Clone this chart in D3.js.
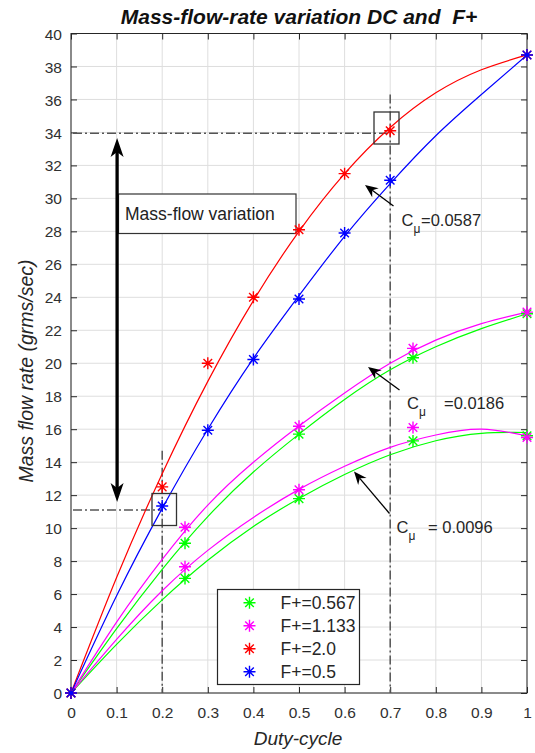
<!DOCTYPE html>
<html><head><meta charset="utf-8">
<script src="https://cdn.jsdelivr.net/npm/d3@7"></script>
<style>
body{margin:0;background:#fff}
text{font-family:"Liberation Sans",Arial,sans-serif}
</style>
</head><body>
<svg id="c" width="535" height="753"></svg>
<script>
// ---------- data ----------
const xTickVals = [0,0.1,0.2,0.3,0.4,0.5,0.6,0.7,0.8,0.9,1];
const xTickLabels = ["0","0.1","0.2","0.3","0.4","0.5","0.6","0.7","0.8","0.9","1"];
const yTickVals = [0,2,4,6,8,10,12,14,16,18,20,22,24,26,28,30,32,34,36,38,40];

// fitted curves, read at these duty-cycle values
const curveX      = [0, 0.1, 0.2, 0.3, 0.4, 0.5, 0.6, 0.7, 0.8, 0.9, 1.0];
const fitRed      = [0, 7.0, 13.3, 18.9, 23.8, 28.0, 31.5, 34.3, 36.4, 37.8, 38.7];
const fitBlue     = [0, 5.9, 11.2, 16.0, 20.3, 24.1, 27.7, 30.9, 33.8, 36.3, 38.7];
const fitMagHigh  = [0, 4.3, 8.1, 11.4, 14.0, 16.2, 18.2, 20.0, 21.4, 22.4, 23.1];
const fitGreenHigh= [0, 3.9, 7.5, 10.7, 13.4, 15.7, 17.8, 19.6, 21.0, 22.1, 23.0];
const fitMagLow   = [0, 3.25, 6.2, 8.65, 10.65, 12.35, 13.75, 14.9, 15.65, 16.0, 15.6];
const fitGreenLow = [0, 2.95, 5.65, 8.05, 10.1, 11.8, 13.25, 14.45, 15.3, 15.75, 15.8];

// measured points
const greenX = [0, 0.25, 0.5, 0.75, 1, 0.25, 0.5, 0.75, 1];
const greenY = [0, 9.08, 15.7, 20.33, 23.0, 6.95, 11.79, 15.29, 15.6];
const magX   = [0, 0.25, 0.5, 0.75, 1, 0.25, 0.5, 0.75, 1];
const magY   = [0, 10.05, 16.18, 20.9, 23.1, 7.66, 12.33, 16.1, 15.5];
const redX   = [0, 0.2, 0.3, 0.4, 0.5, 0.6, 0.7, 1];
const redY   = [0, 12.5, 20.0, 24.0, 28.1, 31.5, 34.1, 38.7];
const blueX  = [0, 0.2, 0.3, 0.4, 0.5, 0.6, 0.7, 1];
const blueY  = [0, 11.34, 15.94, 20.23, 23.9, 27.9, 31.1, 38.7];

const legendLabels = ["F+=0.567","F+=1.133","F+=2.0","F+=0.5"];
const seriesColors = ["#00ff00","#ff00ff","#ff0000","#0000ff"];

// annotation values
const refLow = 11.1, refHigh = 33.95, dcLow = 0.2, dcHigh = 0.7;
const cmuLabels = ["=0.0587","=0.0186","= 0.0096"];

// ---------- layout ----------
const svg = d3.select("#c");
const x = d3.scaleLinear().domain([0,1]).range([71,527]);
const y = d3.scaleLinear().domain([0,40]).range([693,33.5]);
const axisCol = "#262626";

// grid
const g = svg.append("g");
g.selectAll(".gx").data(xTickVals).enter().append("line")
  .attr("x1",d=>x(d)).attr("x2",d=>x(d)).attr("y1",y(0)).attr("y2",y(40))
  .attr("stroke","#dedede").attr("stroke-width",1);
g.selectAll(".gy").data(yTickVals).enter().append("line")
  .attr("x1",x(0)).attr("x2",x(1)).attr("y1",d=>y(d)).attr("y2",d=>y(d))
  .attr("stroke","#dedede").attr("stroke-width",1);

// axes
const fmt = d => xTickLabels[xTickVals.indexOf(d)];
const ax = svg.append("g").attr("transform",`translate(0,${y(0)})`)
  .call(d3.axisBottom(x).tickValues(xTickVals).tickFormat(fmt).tickSizeInner(-6).tickSizeOuter(0).tickPadding(14));
const ay = svg.append("g").attr("transform",`translate(${x(0)},0)`)
  .call(d3.axisLeft(y).tickValues(yTickVals).tickFormat(d3.format("d")).tickSizeInner(-6).tickSizeOuter(0).tickPadding(9));
const at = svg.append("g").attr("transform",`translate(0,${y(40)})`)
  .call(d3.axisTop(x).tickValues(xTickVals).tickFormat("").tickSizeInner(-6).tickSizeOuter(0));
const ar = svg.append("g").attr("transform",`translate(${x(1)},0)`)
  .call(d3.axisRight(y).tickValues(yTickVals).tickFormat("").tickSizeInner(-6).tickSizeOuter(0));
[ax,ay,at,ar].forEach(a=>{
  a.select(".domain").remove();
  a.selectAll("line").attr("stroke",axisCol);
  a.selectAll("text").attr("fill","#303030").style("font-size","15.5px").style("font-family","'Liberation Sans',Arial,sans-serif");
});
ay.selectAll("text").attr("dy","0.36em");
svg.append("rect").attr("x",x(0)).attr("y",y(40)).attr("width",x(1)-x(0)).attr("height",y(0)-y(40))
  .attr("fill","none").attr("stroke",axisCol).attr("stroke-width",1);

// title and axis labels
svg.append("text").attr("x",299).attr("y",24).attr("text-anchor","middle")
  .style("font-size","21px").style("font-weight","bold").style("font-style","italic")
  .style("white-space","pre").attr("fill","#111")
  .text("Mass-flow-rate variation DC and  F+");
svg.append("text").attr("x",298).attr("y",745).attr("text-anchor","middle")
  .style("font-size","19px").style("font-style","italic").attr("fill","#262626")
  .text("Duty-cycle");
svg.append("text").attr("transform","translate(33,371) rotate(-90)").attr("text-anchor","middle")
  .style("font-size","19.5px").style("font-style","italic").attr("fill","#262626")
  .text("Mass flow rate (grms/sec)");

// text box
svg.append("rect").attr("x",118.5).attr("y",194).attr("width",177.5).attr("height",39.5)
  .attr("fill","#fff").attr("stroke","#333").attr("stroke-width",1.2);
svg.append("text").attr("x",125).attr("y",219.5).style("font-size","17.5px").attr("fill","#222")
  .text("Mass-flow variation");

// dash-dot reference lines
const dd = "9,3,2,3";
const refG = svg.append("g").attr("stroke","#555").attr("stroke-width",1.5).attr("stroke-dasharray",dd).attr("fill","none");
refG.append("line").attr("x1",x(0)+2).attr("x2",x(dcLow)).attr("y1",y(refLow)).attr("y2",y(refLow));
refG.append("line").attr("x1",x(dcLow)).attr("x2",x(dcLow)).attr("y1",y(14.7)).attr("y2",y(0));
refG.append("line").attr("x1",x(0)+2).attr("x2",x(dcHigh)).attr("y1",y(refHigh)).attr("y2",y(refHigh));
refG.append("line").attr("x1",x(dcHigh)).attr("x2",x(dcHigh)).attr("y1",y(36.3)).attr("y2",y(0));

// curves
const line = d3.line().x((d,i)=>x(curveX[i])).y(d=>y(d)).curve(d3.curveNatural);
const curves = [[fitGreenLow,0],[fitGreenHigh,0],[fitMagLow,1],[fitMagHigh,1],[fitRed,2],[fitBlue,3]];
curves.forEach(([arr,ci])=>{
  svg.append("path").attr("d",line(arr)).attr("fill","none")
    .attr("stroke",seriesColors[ci]).attr("stroke-width",1.2);
});

// asterisk markers
function star(sel, cx, cy, col){
  const r=6, d=4.3;
  sel.append("path").attr("transform",`translate(${cx},${cy})`)
    .attr("d",`M${-r},0L${r},0M0,${-r}L0,${r}M${-d},${-d}L${d},${d}M${-d},${d}L${d},${-d}`)
    .attr("stroke",col).attr("stroke-width",1.4).attr("fill","none");
}
const pts = [[greenX,greenY,0],[magX,magY,1],[redX,redY,2],[blueX,blueY,3]];
pts.forEach(([xs,ys,ci])=>{
  xs.forEach((v,i)=>star(svg,x(v),y(ys[i]),seriesColors[ci]));
});

// highlight boxes
svg.append("rect").attr("x",152).attr("y",493.5).attr("width",24.5).attr("height",32)
  .attr("fill","none").attr("stroke","#333").attr("stroke-width",1.3);
svg.append("rect").attr("x",374).attr("y",112).attr("width",25).attr("height",32)
  .attr("fill","none").attr("stroke","#333").attr("stroke-width",1.3);

// double arrow
const ax0 = x(0.1)+0.5;
svg.append("line").attr("x1",ax0).attr("x2",ax0).attr("y1",150).attr("y2",490)
  .attr("stroke","#000").attr("stroke-width",3.3);
svg.append("path").attr("d",`M${ax0},138L${ax0-6.5},157L${ax0},152L${ax0+6.5},157Z`).attr("fill","#000");
svg.append("path").attr("d",`M${ax0},502L${ax0-6.5},483L${ax0},488L${ax0+6.5},483Z`).attr("fill","#000");

// C_mu arrows
function arrow(x1,y1,x2,y2){ // from tail (x1,y1) to tip (x2,y2)
  const a=Math.atan2(y2-y1,x2-x1), L=13, W=5.5;
  const bx=x2-L*Math.cos(a), by=y2-L*Math.sin(a);
  const nx=-Math.sin(a), ny=Math.cos(a);
  const mx=x2-(L-4)*Math.cos(a), my=y2-(L-4)*Math.sin(a);
  svg.append("line").attr("x1",x1).attr("y1",y1).attr("x2",mx).attr("y2",my)
    .attr("stroke","#000").attr("stroke-width",1.3);
  svg.append("path").attr("d",`M${x2},${y2}L${bx+nx*W},${by+ny*W}L${mx},${my}L${bx-nx*W},${by-ny*W}Z`).attr("fill","#000");
}
arrow(393.5,206,365,185);
arrow(399.5,390,368,367);
arrow(389.5,513.5,354,471.5);

// C_mu labels
const cmuPos = [[401.5,225.5,421],[407,409,444],[396.5,532.5,428]];
cmuPos.forEach(([cx,cy,tx],i)=>{
  svg.append("text").attr("x",cx).attr("y",cy).style("font-size","16.5px").attr("fill","#262626").text("C");
  svg.append("text").attr("x",cx+12).attr("y",cy+7).style("font-size","12px").attr("fill","#262626").text("μ");
  svg.append("text").attr("x",tx).attr("y",cy).style("font-size","16.5px").style("white-space","pre")
    .attr("fill","#262626").text(cmuLabels[i]);
});

// legend
const lg = svg.append("g");
lg.append("rect").attr("x",217.5).attr("y",589.5).attr("width",142).attr("height",95)
  .attr("fill","#fff").attr("stroke",axisCol).attr("stroke-width",1.2);
legendLabels.forEach((lab,i)=>{
  const cy = 602.7 + i*23;
  star(lg,249.5,cy,seriesColors[i]);
  lg.append("text").attr("x",280.5).attr("y",cy+6.2).style("font-size","17.5px").attr("fill","#262626").text(lab);
});
</script>
</body></html>
